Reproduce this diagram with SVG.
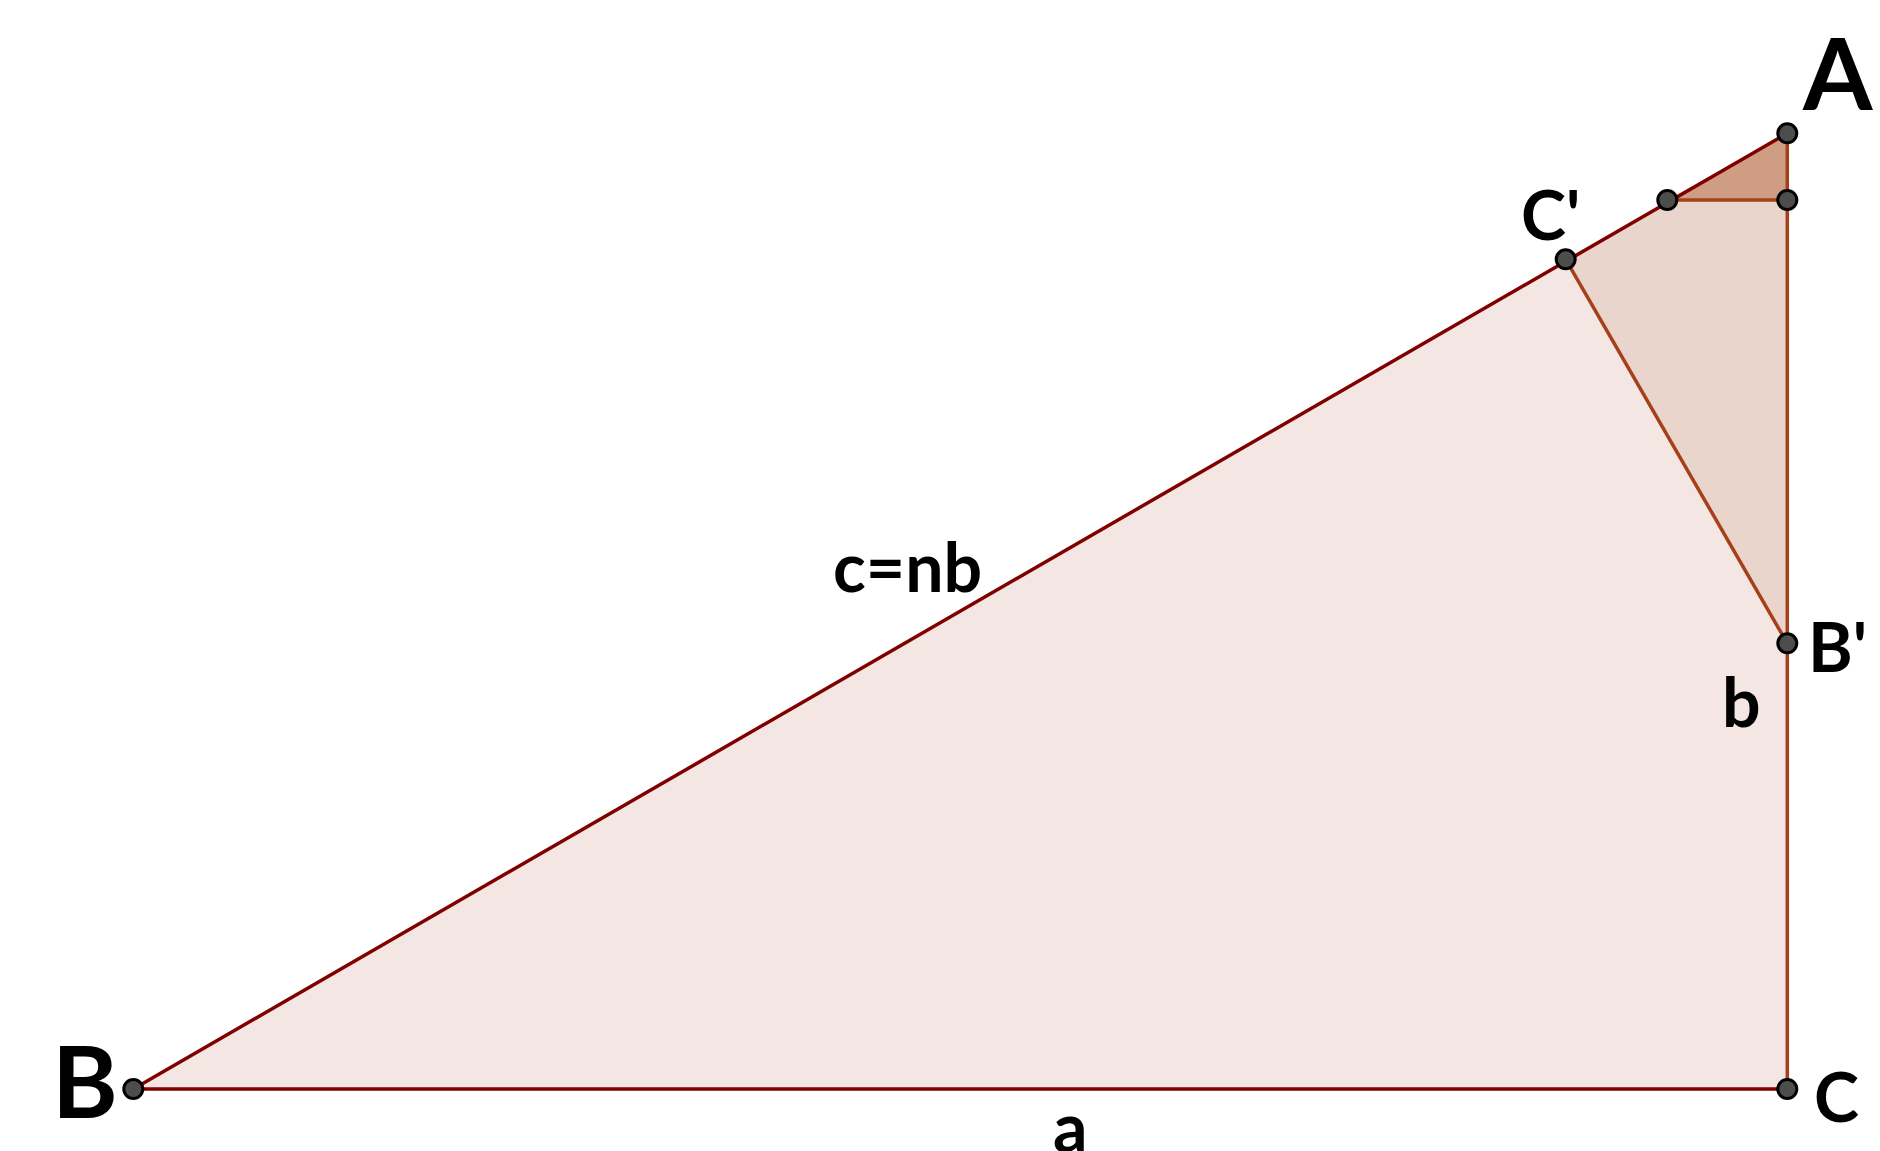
<svg xmlns="http://www.w3.org/2000/svg" width="1880" height="1151" viewBox="0 0 1880 1151">
<style>
.lbl{font-family:Lato,"Open Sans","Liberation Sans",sans-serif;font-weight:bold;fill:#000}
.big{font-size:100px}
.mid{font-size:68px}
.pt{fill:#4d4d4d;stroke:#000;stroke-width:3}
.dark{stroke:#800000;stroke-width:3.5;fill:none}
.brown{stroke:#a5401a;stroke-width:3.5;fill:none}
</style>
<rect width="1880" height="1151" fill="#fff"/>
<g id="fills">
<polygon points="133.3,1089 1787.3,133.3 1787.3,1089" fill="#f4e7e3"/>
<polygon points="1565.7,259.3 1787.3,133.3 1787.3,643.3" fill="#ead5cc"/>
<polygon points="1667.3,200 1787.3,133.3 1787.3,200" fill="#cf9c84"/>
</g>
<g id="connectors">
<line class="dark" x1="133.3" y1="1089" x2="1787.3" y2="133.3"/>
<line class="dark" x1="133.3" y1="1089" x2="1787.3" y2="1089"/>
<line class="brown" x1="1787.3" y1="133.3" x2="1787.3" y2="1089"/>
<line class="brown" x1="1565.7" y1="259.3" x2="1787.3" y2="643.3"/>
<line class="brown" x1="1667.3" y1="200" x2="1787.3" y2="200"/>
</g>
<g id="A"><circle class="pt" cx="1787.3" cy="133.3" r="9.5"/><text class="lbl big" x="1803" y="110">A</text></g>
<g id="P1"><circle class="pt" cx="1787.3" cy="200" r="9.5"/></g>
<g id="P2"><circle class="pt" cx="1667.3" cy="200" r="9.5"/></g>
<g id="Cp"><circle class="pt" cx="1565.7" cy="259.3" r="9.5"/><text class="lbl mid" x="1521" y="240">C'</text></g>
<g id="Bp"><circle class="pt" cx="1787.3" cy="643.3" r="9.5"/><text class="lbl mid" x="1808" y="672">B'</text></g>
<g id="C"><circle class="pt" cx="1787.3" cy="1089" r="9.5"/><text class="lbl mid" x="1814" y="1122">C</text></g>
<g id="B"><circle class="pt" cx="133.3" cy="1089" r="9.5"/><text class="lbl big" x="52" y="1118">B</text></g>
<g id="labels">
<text class="lbl mid" x="833" y="592">c=nb</text>
<text class="lbl mid" x="1722" y="727">b</text>
<text class="lbl mid" x="1053" y="1152">a</text>
</g>
</svg>
